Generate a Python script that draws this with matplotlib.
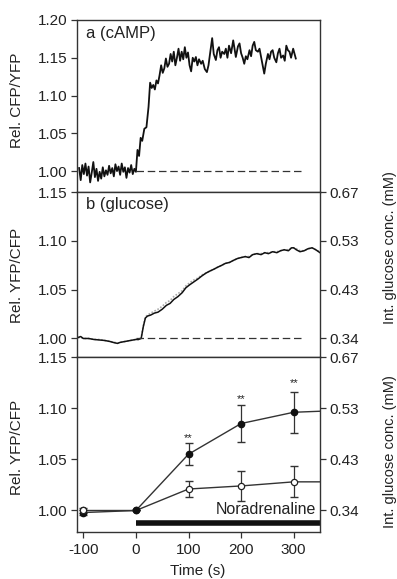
import numpy as np
import matplotlib
matplotlib.use("Agg")
import matplotlib.pyplot as plt

plt.rcParams['font.family'] = ['Liberation Sans', 'DejaVu Sans']

# panel a: cAMP trace
a_time = [-108, -105, -102, -99, -96, -93, -90, -87, -84, -81, -78, -75, -72, -69, -66, -63,
          -60, -57, -54, -51, -48, -45, -42, -39, -36, -33, -30, -27, -24, -21, -18, -15,
          -12, -9, -6, -3, 0, 3, 6, 9, 12, 16, 20, 24, 27, 30, 33, 36, 39, 42, 45, 48, 51,
          54, 57, 60, 63, 66, 69, 72, 75, 78, 81, 84, 87, 90, 93, 96, 99, 102, 105, 108,
          111, 114, 117, 120, 124, 127, 131, 135, 138, 142, 145, 148, 152, 155, 158, 161,
          164, 168, 171, 174, 177, 181, 185, 188, 190, 194, 197, 200, 203, 206, 209, 212,
          216, 219, 222, 225, 228, 232, 235, 238, 241, 244, 247, 251, 254, 257, 260, 263,
          267, 270, 273, 276, 280, 283, 286, 289, 292, 295, 299, 302, 304]
a_ratio = [1.004, 0.988, 1.008, 0.996, 1.010, 0.994, 1.006, 0.985, 0.998, 1.012, 0.992, 1.003,
           0.987, 0.999, 0.990, 1.005, 0.993, 1.001, 0.995, 1.007, 0.997, 1.004, 0.993, 1.009,
           1.000, 1.006, 0.995, 1.010, 0.999, 1.005, 0.991, 1.004, 0.998, 1.008, 0.996, 1.003,
           0.999, 1.028, 1.020, 1.044, 1.040, 1.056, 1.058, 1.085, 1.117, 1.110, 1.114, 1.108,
           1.120, 1.116, 1.127, 1.140, 1.130, 1.136, 1.149, 1.138, 1.142, 1.155, 1.145, 1.158,
           1.140, 1.150, 1.162, 1.146, 1.158, 1.148, 1.164, 1.150, 1.157, 1.140, 1.132, 1.150,
           1.145, 1.151, 1.140, 1.148, 1.142, 1.146, 1.135, 1.131, 1.140, 1.160, 1.176, 1.155,
           1.147, 1.160, 1.164, 1.150, 1.158, 1.155, 1.162, 1.150, 1.166, 1.156, 1.173, 1.160,
           1.151, 1.165, 1.169, 1.156, 1.150, 1.142, 1.152, 1.148, 1.160, 1.152, 1.166, 1.171,
           1.160, 1.158, 1.162, 1.151, 1.140, 1.129, 1.142, 1.155, 1.148, 1.158, 1.160, 1.150,
           1.144, 1.156, 1.162, 1.150, 1.153, 1.146, 1.166, 1.160, 1.158, 1.150, 1.162, 1.154,
           1.149]

# panel b: glucose trace
b_time = [-110, -105, -100, -90, -80, -70, -60, -50, -40, -35, -30, -20, -10, 0, 5, 10, 14, 18,
          22, 28, 35, 42, 50, 58, 65, 72, 80, 88, 95, 102, 110, 118, 125, 133, 140, 148, 155,
          163, 170, 178, 185, 193, 200, 208, 215, 222, 230, 238, 245, 252, 260, 268, 275, 282,
          290, 296, 300, 305, 312, 320, 327, 335, 342, 350]
b_ratio = [1.001, 1.002, 1.000, 1.000, 0.999, 0.9985, 0.998, 0.997, 0.9955, 0.995, 0.996, 0.997,
           0.998, 0.999, 0.999, 1.000, 1.012, 1.021, 1.023, 1.024, 1.026, 1.027, 1.030, 1.034,
           1.036, 1.040, 1.043, 1.047, 1.052, 1.055, 1.058, 1.061, 1.064, 1.067, 1.069, 1.071,
           1.073, 1.075, 1.077, 1.078, 1.080, 1.082, 1.083, 1.084, 1.083, 1.086, 1.087, 1.086,
           1.088, 1.087, 1.089, 1.088, 1.090, 1.091, 1.090, 1.093, 1.093, 1.091, 1.089, 1.090,
           1.092, 1.093, 1.091, 1.088]
b_grey = [1.001, 1.001, 1.000, 1.000, 0.999, 0.999, 0.998, 0.997, 0.996, 0.995, 0.996, 0.997,
          0.998, 0.999, 0.999, 1.001, 1.013, 1.022, 1.024, 1.026, 1.028, 1.030, 1.033, 1.037,
          1.039, 1.043, 1.046, 1.049, 1.054, 1.057, 1.060, 1.062, 1.065, 1.067, 1.069, 1.071,
          1.073, 1.075, 1.077, 1.078, 1.080, 1.082, 1.083, 1.084, 1.084, 1.086, 1.087, 1.087,
          1.088, 1.088, 1.089, 1.089, 1.090, 1.091, 1.091, 1.093, 1.093, 1.092, 1.090, 1.090,
          1.092, 1.093, 1.091, 1.089]

# panel c: mean +/- sem
c_time = [-100, 0, 100, 200, 300, 350]
c_nor = [0.998, 1.000, 1.055, 1.085, 1.096, 1.097]
c_nor_err = [0.002, 0.0, 0.011, 0.018, 0.020, 0.0]
c_ctrl = [1.000, 1.000, 1.021, 1.024, 1.028, 1.028]
c_ctrl_err = [0.002, 0.0, 0.008, 0.015, 0.015, 0.0]
star_time = [100, 200, 300]
star_y = [1.071, 1.109, 1.125]

right_ticks = [1.00, 1.05, 1.10, 1.15]
right_labels = ["0.34", "0.43", "0.53", "0.67"]
x_ticks = [-100, 0, 100, 200, 300]

W, H = 397, 579
fig = plt.figure(figsize=(W / 100, H / 100), dpi=100)
left, width = 0.194, 0.612
ax_a = fig.add_axes([left, 0.668, width, 0.2975])
ax_b = fig.add_axes([left, 0.3834, width, 0.2846])
ax_c = fig.add_axes([left, 0.0812, width, 0.3022])

edge = '#333333'
txt = '#222222'
for ax in (ax_a, ax_b, ax_c):
    ax.set_xlim(-112, 350)
    ax.set_xticks(x_ticks)
    for s in ax.spines.values():
        s.set_color(edge)
        s.set_linewidth(1.0)
    ax.tick_params(direction='out', length=4, width=0.9, colors=edge, labelsize=11,
                   labelcolor=txt, pad=3)

# a
ax_a.plot(a_time, a_ratio, color='#111111', lw=1.3)
ax_a.hlines(1.0, 0, 320, colors='#333333', linestyles=(0, (6, 3)), lw=0.9)
ax_a.set_ylim(0.972, 1.20)
ax_a.set_yticks([1.00, 1.05, 1.10, 1.15, 1.20])
ax_a.set_yticklabels(["1.00", "1.05", "1.10", "1.15", "1.20"])
ax_a.tick_params(axis='x', labelbottom=False)
ax_a.text(-95, 1.192, "a (cAMP)", fontsize=12, color=txt, va='top')

# b
ax_b.plot(b_time, b_grey, color='#aaaaaa', lw=1.2, ls=(0, (1, 1)))
ax_b.plot(b_time, b_ratio, color='#111111', lw=1.1)
ax_b.hlines(1.0, 0, 315, colors='#333333', linestyles=(0, (6, 3)), lw=0.9)
ax_b.set_ylim(0.981, 1.15)
ax_b.set_yticks([1.00, 1.05, 1.10, 1.15])
ax_b.set_yticklabels(["1.00", "1.05", "1.10", "1.15"])
ax_b.tick_params(axis='x', labelbottom=False)
ax_b.text(-95, 1.145, "b (glucose)", fontsize=12, color=txt, va='top')

# c
ax_c.errorbar(c_time[:5], c_ctrl[:5], yerr=c_ctrl_err[:5], fmt='none', ecolor='#333333',
              elinewidth=0.9, capsize=3)
ax_c.errorbar(c_time[:5], c_nor[:5], yerr=c_nor_err[:5], fmt='none', ecolor='#333333',
              elinewidth=0.9, capsize=3)
ax_c.plot(c_time, c_ctrl, color='#333333', lw=1.0)
ax_c.plot(c_time, c_nor, color='#333333', lw=1.0)
ax_c.plot(c_time[:5], c_ctrl[:5], 'o', ms=4.5, mfc='white', mec='#222222', mew=0.9, zorder=4)
ax_c.plot(c_time[:5], c_nor[:5], 'o', ms=4.5, mfc='#111111', mec='#111111', zorder=5)
ax_c.plot(c_time[:1], c_ctrl[:1], 'o', ms=4.5, mfc='white', mec='#222222', mew=0.9, zorder=6)
for t, y in zip(star_time, star_y):
    ax_c.text(t, y, "**", fontsize=8, ha='center', va='center', color=txt)
ax_c.hlines(0.988, 0, 350, colors='#111111', lw=4)
ax_c.text(343, 0.9935, "Noradrenaline", fontsize=11.5, ha='right', va='bottom', color=txt)
ax_c.set_ylim(0.979, 1.15)
ax_c.set_yticks([1.00, 1.05, 1.10, 1.15])
ax_c.set_yticklabels(["1.00", "1.05", "1.10", "1.15"])
ax_c.set_xticklabels([str(t) for t in x_ticks])
ax_c.tick_params(axis='x', pad=4)

for ax, lim in ((ax_b, (0.981, 1.15)), (ax_c, (0.979, 1.15))):
    r = ax.twinx()
    r.set_ylim(*lim)
    r.set_yticks(right_ticks)
    r.set_yticklabels(right_labels)
    r.tick_params(direction='out', length=4, width=0.9, colors=edge, labelsize=11,
                  labelcolor=txt, pad=3)
    for s in r.spines.values():
        s.set_visible(False)

# axis titles placed at pixel positions
def fig_label(x_px, y_px, s, rot=90, size=11):
    fig.text(x_px / W, 1 - y_px / H, s, rotation=rot, ha='center', va='center',
             fontsize=size, color=txt)

fig_label(17, 100, "Rel. CFP/YFP")
fig_label(17, 275, "Rel. YFP/CFP")
fig_label(17, 447, "Rel. YFP/CFP")
fig_label(390, 248, "Int. glucose conc. (mM)", size=10.5)
fig_label(390, 452, "Int. glucose conc. (mM)", size=10.5)
fig_label(198, 571, "Time (s)", rot=0)

fig.savefig("out.png", dpi=100)
